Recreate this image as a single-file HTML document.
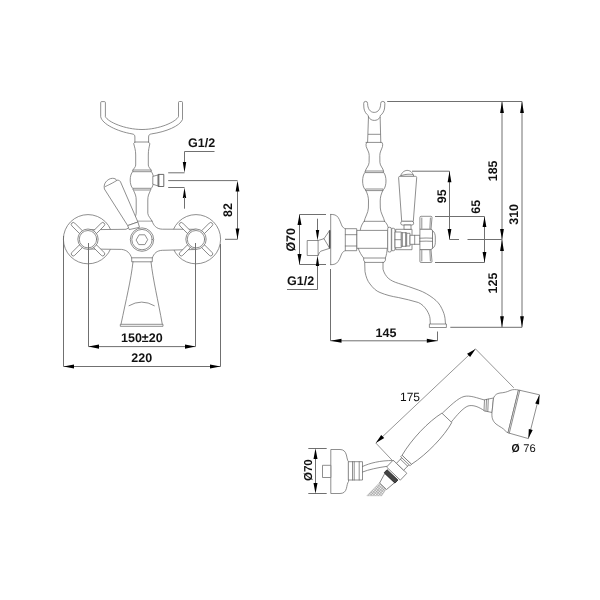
<!DOCTYPE html>
<html><head><meta charset="utf-8">
<style>
html,body{margin:0;padding:0;background:#fff;width:600px;height:600px;overflow:hidden}
svg{display:block;will-change:transform}
.l{fill:none;stroke:#6a6a6a;stroke-width:0.75;stroke-linejoin:round;stroke-linecap:round}
.w{fill:#fff;stroke:#6a6a6a;stroke-width:0.75;stroke-linejoin:round}
.d{fill:none;stroke:#707070;stroke-width:1}
.a{fill:#000;stroke:none}
.t{font-family:"Liberation Sans",sans-serif;font-weight:bold;font-size:12.5px;fill:#111;text-rendering:geometricPrecision}
.r{font-family:"Liberation Sans",sans-serif;font-weight:normal;font-size:12.5px;fill:#111;text-rendering:geometricPrecision}
</style></head><body>
<svg width="600" height="600" viewBox="0 0 600 600">
<rect width="600" height="600" fill="#fff"/>

<!-- ================= LEFT FIGURE (front view) ================= -->
<g id="front">
<!-- U holder -->
<path class="l" d="M134.9 142 L134.9 137 C134.9 135 134 134.2 132 133.9 C117 131.3 102 124 100.7 116.7 L100.7 102.6 Q100.7 101.6 101.7 101.6 L104.4 101.6 Q105.4 101.6 105.4 102.6 L105.4 116.7 C108 122 125 129.5 142 129.5 C159 129.5 176 122 178.5 116.5 L178.5 102.5 Q178.5 101.5 179.5 101.5 L181.5 101.5 Q182.5 101.5 182.5 102.5 L182.5 119.5 C180 126 166 131.8 151.5 133.9 C149.5 134.2 148.6 135 148.6 137 L148.6 142"/>
<line class="l" x1="134.9" y1="142" x2="148.6" y2="142"/>
<!-- upper baluster -->
<path class="l" d="M134.9 142.3 L133.7 143.5 C134.5 147 135.7 150 135.7 155 L135.7 165 C135.7 167 133.5 169 132.8 170"/>
<path class="l" d="M148.6 142.3 L149.9 143.5 C149.2 147 148.3 150 148.3 155 L148.3 165 C148.3 167 150.5 169 151.2 170"/>
<rect class="w" x="132.8" y="170" width="18.4" height="1.7"/>
<!-- ball -->
<path class="l" d="M132.6 171.7 C129.3 175 129.3 185 132.6 188.3 M151.4 171.7 C154.5 175 154.5 185 151.4 188.3"/>
<rect class="w" x="133" y="188.3" width="17.8" height="1.7"/>
<!-- knob -->
<path class="w" d="M152.8 176.4 L158.2 174.9 L158.2 186 L152.8 184.2 Z"/>
<rect class="w" x="158.2" y="174.4" width="5.6" height="12.1" style="stroke:#505050;stroke-width:0.85"/>
<line class="l" x1="158.9" y1="174.6" x2="158.9" y2="186.3" style="stroke:#505050"/>
<!-- lower baluster -->
<path class="l" d="M133.7 190.8 C135.2 194 136.2 196 136.2 200 L136.2 213.3 C136.2 216 133.5 219 132.8 221.2"/>
<path class="l" d="M150.3 190.8 C148.8 194 147.8 196 147.8 200 L147.8 213.3 C147.8 216 151.3 219 152 221.2"/>
<line class="l" x1="131.7" y1="221.2" x2="152.3" y2="221.2"/>
<!-- handle discs -->
<circle class="w" cx="88" cy="239.2" r="24.6"/>
<circle class="w" cx="196" cy="239.2" r="24.6"/>
<!-- body bar -->
<path fill="#fff" d="M88 229.7 L126 229.3 C129 228.5 131 225 131.7 221.7 L152.3 221.7 C153.5 225 156 229 162.3 229.2 L196 229.3 L196 249.5 L162.3 250.3 C157 250.6 154 253 152.3 258 L131.7 258 C130 253 127 250 121.5 249.4 L88 249 Z"/>
<path class="l" d="M88 229.7 L126 229.3 C129 228.5 131 225 131.7 221.7"/>
<path class="l" d="M152.3 221.7 C153.5 225 156 229 162.3 229.2 L196 229.3"/>
<path class="l" d="M88 249 L121.5 249.4 C127 250 130 253 131.7 258"/>
<path class="l" d="M152.3 258 C154 253 157 250.6 162.3 250.3 L196 249.5"/>
<!-- spokes & rings -->
<g transform="translate(88 239.2)">
<rect class="w" x="-2" y="-22.8" width="4" height="15" rx="2" transform="rotate(45)"/>
<rect class="w" x="-2" y="-22.8" width="4" height="15" rx="2" transform="rotate(135)"/>
<rect class="w" x="-2" y="-22.8" width="4" height="15" rx="2" transform="rotate(225)"/>
<rect class="w" x="-2" y="-22.8" width="4" height="15" rx="2" transform="rotate(315)"/>
<circle class="w" r="10.2"/>
<circle class="l" r="8.7"/>
</g>
<g transform="translate(196 239.2)">
<rect class="w" x="-2" y="-22.8" width="4" height="15" rx="2" transform="rotate(45)"/>
<rect class="w" x="-2" y="-22.8" width="4" height="15" rx="2" transform="rotate(135)"/>
<rect class="w" x="-2" y="-22.8" width="4" height="15" rx="2" transform="rotate(225)"/>
<rect class="w" x="-2" y="-22.8" width="4" height="15" rx="2" transform="rotate(315)"/>
<circle class="w" r="10.2"/>
<circle class="l" r="8.7"/>
</g>
<!-- spout -->
<rect class="w" x="131.7" y="257.8" width="20.6" height="4"/>
<path class="l" d="M133 261.8 C131 280 126 300 121 324.3 M151 261.8 C153 280 158 300 162.3 324.3"/>
<rect class="w" x="120.3" y="324.3" width="42.7" height="2"/>
<path class="l" d="M129 305.7 Q141.7 298.3 154.3 305.7"/>
<!-- center nut -->
<circle class="w" cx="142" cy="239.6" r="11.7"/>
<circle class="l" cx="142" cy="239.6" r="10.2"/>
<polygon class="l" points="136.3,239.7 139.15,234.8 144.85,234.8 147.7,239.7 144.85,244.6 139.15,244.6"/>
<!-- lever -->
<path class="w" d="M104.4 189 C103.8 186 104.5 183.5 105.8 182 C107.5 179.8 110 178.3 112.6 178.3 C114.5 178.3 116 179 116.7 180.3 C117.8 179.9 119.5 180.3 120.4 181.6 L137.9 222 L127.7 225.6 Z"/>
<path class="w" d="M127.7 225.6 L137.9 222 L139.5 227.3 L129.2 229.6 Z"/>
<path class="l" d="M105.2 186.6 C108 185.2 112 183.5 116.7 180.5" stroke-dasharray="1.5 0.8"/>
</g>

<!-- front dims -->
<g id="frontdims">
<path class="d" d="M214.5 151.5 L184.5 151.5 L184.5 163"/>
<polygon class="a" points="182.80,162.00 186.20,162.00 184.50,172.80"/>
<path class="d" d="M168.2 172.8 L184.5 172.8 M168.2 180.6 L237.5 180.6 M168.2 187.5 L184.5 187.5"/>
<polygon class="a" points="186.20,198.00 182.80,198.00 184.50,187.50"/>
<path class="d" d="M184.5 197 L184.5 208.7"/>
<text class="t" x="188" y="146.8">G1/2</text>
<path class="d" d="M237.5 190 L237.5 239.3 L225 239.3"/>
<polygon class="a" points="239.40,191.40 235.60,191.40 237.50,180.60"/>
<polygon class="a" points="235.60,228.50 239.40,228.50 237.50,239.30"/>
<text class="t" transform="translate(232.4 216.9) rotate(-90)">82</text>
<path class="d" d="M88.5 243 L88.5 346.6 L195.5 346.6 L195.5 243"/>
<polygon class="a" points="99.00,344.50 99.00,348.70 88.50,346.60"/>
<polygon class="a" points="185.00,348.70 185.00,344.50 195.50,346.60"/>
<text class="t" x="121" y="342">150±20</text>
<path class="d" d="M63.5 236 L63.5 366.5 L220.5 366.5 L220.5 244"/>
<polygon class="a" points="74.00,364.40 74.00,368.60 63.50,366.50"/>
<polygon class="a" points="210.00,368.60 210.00,364.40 220.50,366.50"/>
<text class="t" x="131.3" y="361.7">220</text>
</g>

<!-- ================= RIGHT FIGURE (side view) ================= -->
<g id="side">
<!-- hook -->
<path class="l" d="M367.6 142.3 L368.5 115.8 C366 114 364.2 111 363.9 108 L363.7 103.4 Q363.7 101.4 365.6 101.4 Q367.6 101.4 367.6 103.4 C367.6 108.5 370 112.4 374.2 112.4 C378.4 112.4 380.7 108.5 380.7 103.4 Q380.7 101.4 382.8 101.4 Q384.9 101.4 384.9 103.4 L384.6 108 C384.3 111 382.6 114 380.1 115.8 L380.8 142.3"/>
<path class="l" d="M368.5 117 C370 119.5 372 120.4 374.3 120.4 C376.6 120.4 378.6 119.5 379.9 117.5"/>
<line class="l" x1="368.4" y1="134.3" x2="380.1" y2="134.3"/>
<line class="l" x1="366" y1="142.4" x2="381.5" y2="142.4"/>
<!-- upper baluster -->
<path class="l" d="M366.5 142.7 Q365.6 144 366.2 146.5 C367.3 150 369.2 152 369.2 155.5 L369.1 162.5 C368.9 166 366 168 365.3 171"/>
<path class="l" d="M382.2 142.7 Q383.1 144 382.5 146.5 C381.4 150 379.8 152 379.8 155.5 L379.9 162.5 C380.1 166 383 168 383.6 171"/>
<rect class="w" x="365.2" y="171" width="18.2" height="1.6"/>
<path class="l" d="M364.8 172.6 C361.8 176 361.8 186 364.8 189.3 M383.8 172.6 C386.8 176 386.8 186 383.8 189.3"/>
<rect class="w" x="365.5" y="189" width="17.6" height="1.6"/>
<path class="l" d="M366 190.7 C367.5 194 368.5 197 368.5 201 L368.4 208 C368.2 213 365 217 364.2 221.3"/>
<path class="l" d="M382.7 190.7 C381.2 194 380.2 197 380.2 201 L380.3 208 C380.5 213 383.7 217 384.6 221.3"/>
<!-- body -->
<path class="l" d="M364.2 221.3 L384.6 221.3 M364.2 221.3 C362.4 223.3 360.8 226.3 360.2 230.4 M384.6 221.3 C386.2 222.8 387.6 224.8 388.2 227.5"/>
<rect class="w" x="356.7" y="230.4" width="31.2" height="17.9"/>
<path class="l" d="M358.2 248.3 C359.5 252 361.5 255.5 363.7 258 M387.2 248.8 C387 252 386.5 255 385.4 258"/>
<path class="w" d="M363.7 258 L385.4 258 Q386.2 260.3 384 262.4 L365 262.4 Q363 260.3 363.7 258 Z"/>
<!-- spout -->
<path class="l" d="M364.7 262.3 L365 271.7 C366 277 367.5 281 370 284 C373 288 376 291 380 292.5 C386 295 392 296.5 398.3 297.5 C405 299 412 300.5 418.3 302.5 C422 304 424.5 307 426.7 310 C428.5 313 429.8 316 430 318.3 L430.3 324"/>
<path class="l" d="M383 262.3 L383 269.2 C384 273 386 276 388.3 278.3 C391 280.5 394 282 398.3 283.3 C405 285.5 412 287.5 418.3 290 C424 292 429 295 433.3 298.3 C437 301 440 304.5 441.7 308.3 C443.5 312 444.6 315 445 318.3 L445.5 324"/>
<rect class="w" x="429.4" y="324" width="17" height="3.5"/>
<!-- left nut + flange -->
<rect class="w" x="345.3" y="228.7" width="11.4" height="22"/>
<path class="l" d="M345.3 234.7 L356.7 234.7 M345.3 246 L356.7 246"/>
<path class="l" d="M330.7 214.4 L330.7 264.7 M330.7 214.4 C334 214.4 336.5 215 338 217.3 C340 220 341 224 342 226 C343 227.5 344 228.5 345.3 228.7 M330.7 264.7 C334 264.7 336.5 264 338 261.5 C340 259 341 255 342 253.3 C343 251.8 344 251 345.3 250.7"/>
<!-- connector -->
<rect class="w" x="307.2" y="240.5" width="10.9" height="15"/>
<path class="l" d="M318.1 240.5 L324 238.7 L329.7 230.3 M324 238.7 L329.7 248.3 M318.1 255.5 L319.3 252.8 L320.8 251.2 L329.7 248.3"/>
<line x1="329.7" y1="230.3" x2="329.7" y2="248.3" stroke="#555" stroke-width="1.6"/>
<!-- right side parts -->
<rect class="w" x="387.7" y="227.3" width="3.6" height="24.7" rx="1.5"/>
<path class="w" d="M395.7 229.3 L412 229.3 L412 249.7 L395.7 249.7 Z"/>
<path class="w" d="M391.7 228.3 L393.5 228.3 Q395 228.3 395 230 L395 249 Q395 250.7 393.5 250.7 L391.7 250.7 Z"/>
<rect class="w" x="395" y="232" width="6.3" height="15.7"/>
<line class="l" x1="395" y1="239.7" x2="401.3" y2="239.7"/>
<rect class="w" x="401.3" y="232.7" width="5.4" height="13.6"/>
<path class="l" d="M402.4 232.7 L402.4 246.3 M405.6 232.7 L405.6 246.3"/>
<rect class="w" x="406.7" y="233.3" width="3.3" height="12.7"/>
<rect class="w" x="410" y="235.3" width="10" height="9"/>
<line class="l" x1="414.7" y1="235.3" x2="414.7" y2="244.3"/>
<!-- lever side -->
<path class="w" d="M400.4 176.4 C401.5 172.5 404.5 170.4 407.2 170.4 C410 170.4 412.5 172 413.8 176.4 Z"/>
<path class="l" d="M401.3 175.6 Q407 173.6 413.2 174.6" stroke-dasharray="1.3 0.8"/>
<path class="w" d="M398.6 177.6 Q398.6 176.3 399.9 176.3 L415.4 176.3 Q416.7 176.3 416.7 177.6 L413.3 221.3 L401.7 221.3 Z"/>
<rect class="w" x="400.7" y="221.3" width="13" height="3.7" rx="1.8"/>
<rect class="w" x="404" y="225" width="7" height="4.3"/>
<!-- cross handle side -->
<path class="w" d="M419.9 229.3 L419.9 217.5 Q419.9 216.3 421.1 216.3 L430.9 216.3 Q432.1 216.3 432 217.5 L431 229.3 Z"/>
<path class="w" d="M419.9 249.6 L419.9 261.3 Q419.9 262.5 421.1 262.5 L430.9 262.5 Q432.1 262.5 432 261.3 L431 249.6 Z"/>
<path class="w" d="M432.5 230.5 C434.5 232 435.3 234.5 435.3 237 L435.3 242.5 C435.3 245 434.5 247 432.5 248.5 Z"/>
<path class="w" d="M419.9 229.3 L431 229.3 Q432.5 229.5 432.5 231 L432.5 247.5 Q432.5 249.4 431 249.6 L419.9 249.6 Z"/>
<path class="l" d="M419.9 238.2 Q426 237.8 432.5 238.2 M419.9 241.3 Q426 240.9 432.5 241.3"/>
<path class="l" d="M421.8 218 L421.8 228.4 M430.4 218 L429.9 228.4 M421.8 250.5 L421.8 261 M429.9 250.5 L430.4 261" stroke="#e2e2e2"/>
</g>

<!-- side dims -->
<g id="sidedims">
<path class="d" d="M387.2 101.5 L522 101.5"/>
<path class="d" d="M502 101.5 L502 327.3 M522 101.5 L522 327.3 M450.3 327.3 L522 327.3"/>
<polygon class="a" points="503.90,113.00 500.10,113.00 502.00,101.50"/>
<polygon class="a" points="523.90,113.00 520.10,113.00 522.00,101.50"/>
<polygon class="a" points="500.10,229.00 503.90,229.00 502.00,239.50"/>
<polygon class="a" points="503.90,251.00 500.10,251.00 502.00,239.50"/>
<polygon class="a" points="500.10,316.30 503.90,316.30 502.00,327.30"/>
<polygon class="a" points="520.10,316.30 523.90,316.30 522.00,327.30"/>
<path class="d" d="M412 171.2 L449.5 171.2 L449.5 239.5 L459 239.5 M467.5 239.5 L502 239.5"/>
<polygon class="a" points="451.40,182.20 447.60,182.20 449.50,171.20"/>
<polygon class="a" points="447.60,229.00 451.40,229.00 449.50,239.50"/>
<path class="d" d="M435 216.5 L484.5 216.5 L484.5 262.5 L435 262.5"/>
<polygon class="a" points="486.40,227.00 482.60,227.00 484.50,216.50"/>
<polygon class="a" points="482.60,252.00 486.40,252.00 484.50,262.50"/>
<path class="d" d="M326 214.5 L299.5 214.5 L299.5 264.5 L326 264.5"/>
<polygon class="a" points="301.50,225.00 297.50,225.00 299.50,214.50"/>
<polygon class="a" points="297.50,254.00 301.50,254.00 299.50,264.50"/>
<path class="d" d="M317.5 218.7 L317.5 231 M317.5 265 L317.5 289.5 L287 289.5"/>
<polygon class="a" points="315.80,230.00 319.20,230.00 317.50,240.50"/>
<polygon class="a" points="319.20,266.00 315.80,266.00 317.50,255.50"/>
<path class="d" d="M330.5 269 L330.5 340.8 L437.5 340.8 L437.5 331.5"/>
<polygon class="a" points="341.50,338.80 341.50,342.80 330.50,340.80"/>
<polygon class="a" points="426.80,342.80 426.80,338.80 437.50,340.80"/>
<text class="t" transform="translate(496.8 181.3) rotate(-90)">185</text>
<text class="t" transform="translate(445.6 203.3) rotate(-90)">95</text>
<text class="t" transform="translate(480 213.8) rotate(-90)">65</text>
<text class="t" transform="translate(496.8 293.5) rotate(-90)">125</text>
<text class="t" transform="translate(518 224.8) rotate(-90)">310</text>
<text class="t" transform="translate(295.2 251.6) rotate(-90)">Ø70</text>
<text class="t" x="287" y="284.7">G1/2</text>
<text class="t" x="375.6" y="336.7">145</text>
</g>

<!-- ================= HAND SHOWER ================= -->
<g id="shower">
<!-- wall connector -->
<path class="w" d="M330.8 449.5 L340 449.5 C343.5 449.5 345.5 451.5 346.4 455 C347.1 458 347.4 460.5 348.5 461.7 L348.5 481.5 C347.4 483 347.1 485.5 346.4 488.5 C345.5 491.8 343.5 493.5 340 493.5 L330.8 493.5 Z"/>
<rect class="w" x="322.5" y="465.3" width="8.3" height="12.2"/>
<rect class="w" x="348.3" y="461.7" width="14.2" height="18.3"/>
<path class="l" d="M352.5 461.7 L352.5 480 M354.2 461.7 L354.2 480 M359.2 461.7 L359.2 480"/>
<!-- hose from wall -->
<path class="l" d="M362.5 466.5 C370 463 380 460.5 393 460.5"/>
<path class="l" d="M362.5 472 C369 469.5 377 467.8 387 466.3"/>
<defs><pattern id="xh" width="2" height="2" patternUnits="userSpaceOnUse" patternTransform="rotate(40)"><rect width="2" height="2" fill="#fff"/><path d="M0 0.5 H2 M0.5 0 V2" stroke="#8a8a8a" stroke-width="0.55"/></pattern></defs>
<polygon points="379.3,483 386,489.3 381.8,495.8 366.8,495.8" fill="url(#xh)" stroke="#aaa" stroke-width="0.4"/>
<!-- handle group in local coords -->
<g transform="translate(446.85 417.85) rotate(133.7)">
<!-- hatched hose -->

<path class="w" d="M83 -7 L93.5 -5.9 L93.5 3.6 L83 6.5 Z"/>
<rect x="78.8" y="-7.6" width="4.2" height="15" fill="#444" stroke="#222" stroke-width="0.8"/>
<rect class="w" x="67.7" y="-9.4" width="9.5" height="19"/>
<rect class="w" x="59.5" y="-5" width="8.2" height="10"/>
<line class="l" x1="62" y1="-5" x2="62" y2="5"/>
<path class="w" d="M0 -6.8 C15 -10.8 40 -10.8 58 -6.5 L58 6.5 C40 10.8 15 10.8 0 6.8 Z"/>
<path class="w" d="M58 -6.5 L60 -6.5 L60 6.5 L58 6.5 Z"/>
</g>
<!-- arm -->
<path class="l" d="M442.5 413 C450 406 458 398 464 396.5 C470 395 477 398 484.5 400"/>
<path class="l" d="M451.5 421.8 C457 415 463 408 468 406 C473 404.5 479 407 484 410.5"/>
<!-- collar -->
<polygon class="w" points="484.5,399.8 493.5,398 492,412.5 484,410.8"/>
<path class="l" d="M486.5 399.4 L486 411.1 M488.3 399.1 L487.8 411.5"/>
<!-- bell -->
<path class="w" d="M493.5 398 C495 394.5 497 393.5 500 393 C504 392.7 507 392 510 390.5 C513 389.2 516 389.5 518.5 390 L508 432.8 C507 432.5 506 431.5 505 430.5 C503 428 500 427 496 424 C492.5 421 491.5 417 492 412.5 Z"/>
<path class="w" d="M518.5 390 L539.5 394.8 L528.4 438.6 L508 432.8 Z"/>
<line class="l" x1="519.8" y1="390.3" x2="509.3" y2="433.1"/>
</g>

<!-- shower dims -->
<g id="showerdims">
<path class="d" style="stroke:#8a8a8a;stroke-width:0.9" d="M475.5 348.9 L375.8 443 M475.5 348.9 L513.8 387.8 M375.8 443 L393 461.2"/>
<polygon class="a" points="470.10,357.02 467.08,353.82 475.50,348.90"/>
<polygon class="a" points="381.20,434.88 384.22,438.08 375.80,443.00"/>
<polygon class="a" points="539.10,404.50 535.23,403.52 539.50,394.80"/>
<polygon class="a" points="528.80,428.90 532.67,429.88 528.40,438.60"/>
<text class="r" x="400" y="400.7" style="font-size:12px">175</text>
<text class="t" transform="translate(511.6 451.6) scale(0.9 1)" style="font-size:11.6px">Ø</text><text class="r" x="523.3" y="451.8" style="font-size:11.2px">76</text>
<path class="d" d="M308.3 448.5 L326.7 448.5 M308.3 493.5 L326.7 493.5 M315.5 458 L315.5 484"/>
<polygon class="a" points="317.50,459.00 313.50,459.00 315.50,448.50"/>
<polygon class="a" points="313.50,483.00 317.50,483.00 315.50,493.50"/>
<text class="t" transform="translate(311.7 481) rotate(-90)" style="font-size:11.5px">Ø70</text>
</g>
</svg>
</body></html>
